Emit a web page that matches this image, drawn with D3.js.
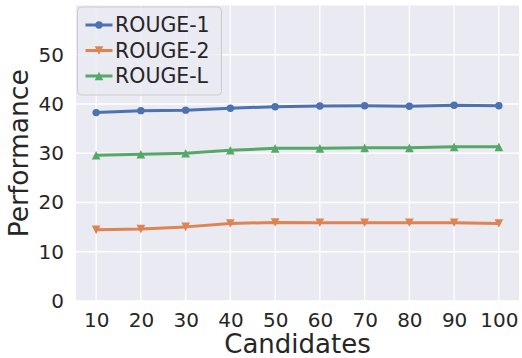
<!DOCTYPE html>
<html>
<head>
<meta charset="utf-8">
<script src="https://cdn.jsdelivr.net/npm/d3@7"></script>
<style>
    body { margin: 0; background: #fff; }
    text { font-family: "DejaVu Sans", sans-serif; fill: #262626; }
</style>
</head>
<body>
<div id="chart"></div>
<script>

// data
var candidates = [10, 20, 30, 40, 50, 60, 70, 80, 90, 100];
var rouge1 = [38.25, 38.65, 38.75, 39.15, 39.45, 39.6, 39.65, 39.55, 39.75, 39.65];
var rouge2 = [14.45, 14.6, 15.05, 15.75, 15.95, 15.9, 15.9, 15.9, 15.9, 15.75];
var rougeL = [29.6, 29.8, 30.0, 30.6, 31.0, 31.0, 31.1, 31.1, 31.3, 31.3];
var seriesNames = ["ROUGE-1", "ROUGE-2", "ROUGE-L"];
var yTicks = [0, 10, 20, 30, 40, 50];

var W = 522, H = 358;
var margin = {top: 5.5, right: 3, bottom: 57, left: 76};
var width = W - margin.left - margin.right,
    height = H - margin.top - margin.bottom;

var colors = ["#4c72b0", "#dd8452", "#55a868"];
var symbols = ["circle", "down", "up"];

var svg = d3.select("#chart").append("svg")
    .attr("width", W)
    .attr("height", H)
    .append("g")
    .attr("transform", "translate(" + margin.left + "," + margin.top + ")");

var x = d3.scaleLinear().domain([5.5, 104.5]).range([0, width]);
var y = d3.scaleLinear().domain([0, 60]).range([height, 0]);

// background
svg.append("rect")
    .attr("width", width)
    .attr("height", height)
    .attr("fill", "#eaeaf2");

// grid
svg.selectAll(".vgrid")
    .data(candidates)
    .enter().append("line")
    .attr("x1", function(d) { return x(d); })
    .attr("x2", function(d) { return x(d); })
    .attr("y1", 0).attr("y2", height)
    .attr("stroke", "#fff").attr("stroke-width", 1.3);

svg.selectAll(".hgrid")
    .data(yTicks)
    .enter().append("line")
    .attr("y1", function(d) { return y(d); })
    .attr("y2", function(d) { return y(d); })
    .attr("x1", 0).attr("x2", width)
    .attr("stroke", "#fff").attr("stroke-width", 1.3);

// axes (no domain line, no ticks)
var xAxis = svg.append("g")
    .attr("transform", "translate(0," + height + ")")
    .call(d3.axisBottom(x).tickValues(candidates).tickSize(0).tickPadding(12));
var yAxis = svg.append("g")
    .call(d3.axisLeft(y).tickValues(yTicks).tickSize(0).tickPadding(12));
[xAxis, yAxis].forEach(function(a) {
    a.select(".domain").remove();
    a.selectAll("text")
        .style("font-family", "DejaVu Sans, sans-serif")
        .style("font-size", "20px")
        .attr("fill", "#262626");
});

// axis titles
svg.append("text")
    .attr("x", width / 2)
    .attr("y", height + 51.5)
    .attr("text-anchor", "middle")
    .style("font-size", "26px")
    .text("Candidates");

svg.append("text")
    .attr("transform", "translate(" + (28 - margin.left) + "," + (height / 2) + ") rotate(-90)")
    .attr("text-anchor", "middle")
    .style("font-size", "26.5px")
    .text("Performance");

// marker path
function markerPath(kind, r) {
    if (kind === "up") {
        return "M0," + (-r) + "L" + r + "," + r + "L" + (-r) + "," + r + "Z";
    }
    if (kind === "down") {
        return "M0," + r + "L" + r + "," + (-r) + "L" + (-r) + "," + (-r) + "Z";
    }
    return d3.symbol().type(d3.symbolCircle).size(Math.PI * 3.7 * 3.7)();
}

var allSeries = [rouge1, rouge2, rougeL];
var line = d3.line()
    .x(function(d, i) { return x(candidates[i]); })
    .y(function(d) { return y(d); });

allSeries.forEach(function(vals, s) {
    svg.append("path")
        .datum(vals)
        .attr("d", line)
        .attr("fill", "none")
        .attr("stroke", colors[s])
        .attr("stroke-width", 3)
        .attr("stroke-linejoin", "round")
        .attr("stroke-linecap", "round");

    svg.selectAll(".m" + s)
        .data(vals)
        .enter().append("path")
        .attr("transform", function(d, i) { return "translate(" + x(candidates[i]) + "," + y(d) + ")"; })
        .attr("d", markerPath(symbols[s], 4.3))
        .attr("fill", colors[s]);
});

// legend
var legend = svg.append("g")
    .attr("transform", "translate(" + (77.5 - margin.left) + "," + (7 - margin.top) + ")");

legend.append("rect")
    .attr("width", 144)
    .attr("height", 88)
    .attr("rx", 4)
    .attr("fill", "#eaeaf2")
    .attr("fill-opacity", 0.8)
    .attr("stroke", "#cccccc")
    .attr("stroke-width", 1);

seriesNames.forEach(function(name, s) {
    var cy = 18 + s * 25.5;
    legend.append("line")
        .attr("x1", 8).attr("x2", 35)
        .attr("y1", cy).attr("y2", cy)
        .attr("stroke", colors[s])
        .attr("stroke-width", 3);
    legend.append("path")
        .attr("transform", "translate(21.5," + cy + ")")
        .attr("d", markerPath(symbols[s], 4.3))
        .attr("fill", colors[s]);
    legend.append("text")
        .attr("x", 37.5)
        .attr("y", cy + 7.4)
        .style("font-size", "20.5px")
        .text(name);
});

</script>
</body>
</html>
